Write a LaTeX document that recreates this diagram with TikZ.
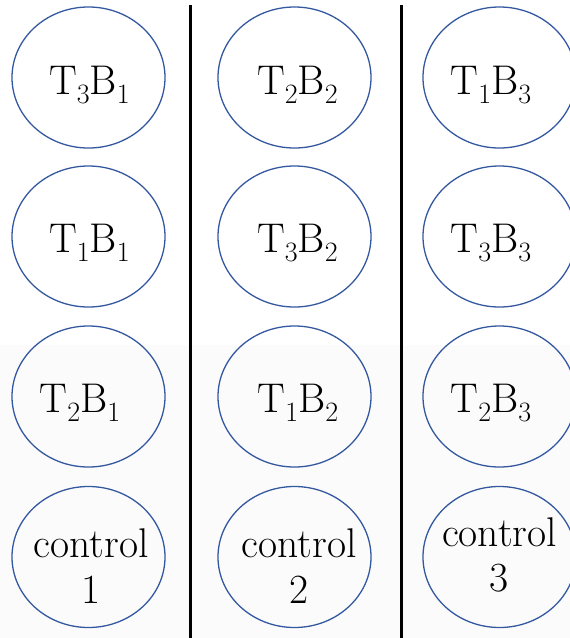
\documentclass[tikz,border=0pt]{standalone}
\usetikzlibrary{shapes.geometric}
\definecolor{ringblue}{RGB}{52,88,160}
% lowered, smaller index digit
\newcommand\lowidx[1]{\raisebox{-9.5pt}{\fontsize{28}{28}\selectfont #1}}
\tikzset{
  plotring/.style={ellipse, draw=ringblue, line width=1.3pt,
    minimum width=153pt, minimum height=141pt, inner sep=0pt},
  lbl/.style={font=\rmfamily\fontsize{41.5}{46}\selectfont, anchor=base, inner sep=0pt},
  divider/.style={line width=3pt}
}
\begin{document}
\begin{tikzpicture}[x=1pt,y=-1pt]
\useasboundingbox (0,0) rectangle (570,638);
\clip (0,0) rectangle (570,638);
\fill[gray!3] (0,345) rectangle (570,638);

% plots, column by column
\foreach \c/\x in {1/88.5, 2/294.5, 3/499.5}{
  \foreach \r/\y in {1/77.5, 2/236.5, 3/396.5, 4/557}{
    \node[plotring] (p\c\r) at (\x,\y) {};
  }
}

% treatment labels
\node[lbl] (t11) at (89.5,94)  {T\lowidx{3}B\lowidx{1}};
\node[lbl] (t12) at (89.5,252) {T\lowidx{1}B\lowidx{1}};
\node[lbl] (t13) at (80,412)   {T\lowidx{2}B\lowidx{1}};
\node[lbl] (t21) at (297.5,94) {T\lowidx{2}B\lowidx{2}};
\node[lbl] (t22) at (297.5,252){T\lowidx{3}B\lowidx{2}};
\node[lbl] (t23) at (298,412)  {T\lowidx{1}B\lowidx{2}};
\node[lbl] (t31) at (491,94)   {T\lowidx{1}B\lowidx{3}};
\node[lbl] (t32) at (491,252)  {T\lowidx{3}B\lowidx{3}};
\node[lbl] (t33) at (491,412)  {T\lowidx{2}B\lowidx{3}};

% control plots
\node[lbl] (c1a) at (91,557)    {control};
\node[lbl] (c1b) at (91,603)    {1};
\node[lbl] (c2a) at (299,557)   {control};
\node[lbl] (c2b) at (299,603)   {2};
\node[lbl] (c3a) at (499.5,546) {control};
\node[lbl] (c3b) at (499.5,591) {3};

% block dividers
\coordinate (d1top) at (190,5);
\coordinate (d1bot) at (190,638);
\coordinate (d2top) at (401,5);
\coordinate (d2bot) at (401,638);
\draw[divider] (d1top) -- (d1bot);
\draw[divider] (d2top) -- (d2bot);
\end{tikzpicture}
\end{document}
